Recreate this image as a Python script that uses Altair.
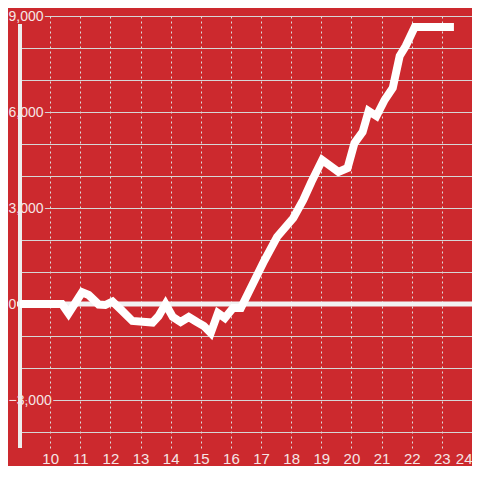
import altair as alt
import pandas as pd

# data
xs = [9.0, 10.39, 10.61, 11.06, 11.28, 11.61, 11.83, 12.07, 12.33, 12.73, 13.4, 13.6,
      13.83, 14.07, 14.33, 14.6, 14.87, 15.1, 15.33, 15.57, 15.8, 16.07, 16.33, 17.1,
      17.53, 18.07, 18.4, 18.67, 19.03, 19.57, 19.87, 20.1, 20.37, 20.57, 20.83, 21.1,
      21.37, 21.6, 21.8, 22.1, 23.4]
ys = [0, 0, -297, 366, 281, -16, -31, 78, -156, -531, -578, -375,
      0, -406, -563, -406, -563, -688, -906, -281, -438, -125, -125, 1344,
      2094, 2688, 3250, 3813, 4500, 4125, 4250, 5031, 5375, 6031, 5875, 6375,
      6750, 7750, 8063, 8656, 8656]
x_ticks = list(range(10, 25))
y_labels = [-3000, 0, 3000, 6000, 9000]
y_grid = list(range(-4000, 9001, 1000))

BG = "#cc292e"
LABEL = "#f5e6e6"
FONT = "Liberation Sans"

line_df = pd.DataFrame({"x": xs, "y": ys})
ylab_df = pd.DataFrame({"v": y_labels})
zero_df = pd.DataFrame({"v": [0]})
axis_df = pd.DataFrame({"a": [0]})

xscale = alt.Scale(domain=[9, 24], nice=False, zero=False)
yscale = alt.Scale(domain=[-4500, 9000], nice=False, zero=False)

yaxis = alt.Axis(values=y_grid, grid=True, gridColor="#d6d6d6", gridWidth=1,
                 labels=False, ticks=False, domain=False)
xaxis = alt.Axis(values=x_ticks, grid=True, gridDash=[2, 3], gridColor="#dddddd",
                 gridWidth=1, domain=False, ticks=False, labelPadding=3,
                 labelFontSize=15, labelFont=FONT, labelColor=LABEL, format="d",
                 labelFlush=True)

halo = alt.Chart(ylab_df).mark_text(
    align="left", baseline="middle", dy=1, fontSize=14, font=FONT,
    color=BG, stroke=BG, strokeWidth=4,
).encode(
    y=alt.Y("v:Q", scale=yscale, axis=yaxis, title=None),
    x=alt.value(-11.5),
    text=alt.Text("v:Q", format=","),
)

axis_line = alt.Chart(axis_df).mark_rule(color="#eeeeee", strokeWidth=4).encode(
    x=alt.value(0), y=alt.value(8), y2=alt.value(432)
)

zero = alt.Chart(zero_df).mark_rule(color="#f2f2f2", strokeWidth=5).encode(
    y=alt.Y("v:Q", scale=yscale, axis=yaxis, title=None),
    x=alt.value(-3), x2=alt.value(452),
)

line = alt.Chart(line_df).mark_line(color="white", strokeWidth=8, strokeJoin="miter").encode(
    x=alt.X("x:Q", scale=xscale, title=None, axis=xaxis),
    y=alt.Y("y:Q", scale=yscale, title=None, axis=yaxis),
)

labels = alt.Chart(ylab_df).mark_text(
    align="left", baseline="middle", dy=1, fontSize=14, font=FONT, color=LABEL,
).encode(
    y=alt.Y("v:Q", scale=yscale, axis=yaxis, title=None),
    x=alt.value(-11.5),
    text=alt.Text("v:Q", format=","),
)

chart = alt.layer(halo, axis_line, zero, line, labels).properties(
    width=452, height=432,
    autosize=alt.AutoSizeParams(type="none"),
    padding={"left": 12, "top": 8, "right": 0, "bottom": 18},
    background=BG,
).configure_view(stroke=None)

chart.save("out.html", embed_options={"renderer": "svg", "actions": False})
